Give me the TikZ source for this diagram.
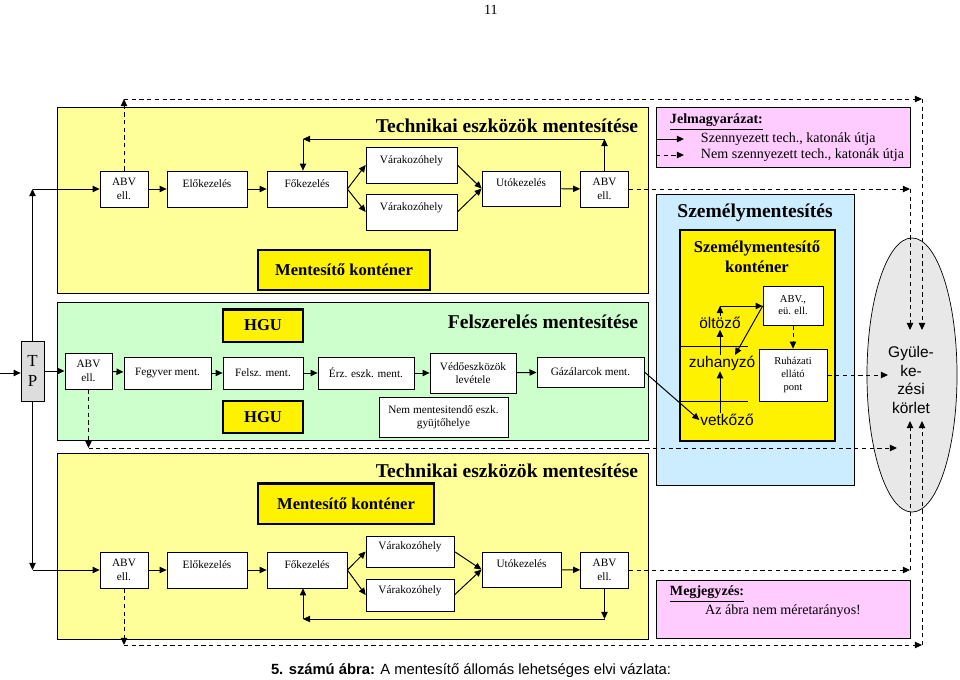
\documentclass[tikz,border=0pt]{standalone}
\usepackage{fontspec}
\setmainfont{Liberation Serif}
\setsansfont{Liberation Sans}
\usetikzlibrary{arrows.meta,shapes.geometric}
\definecolor{paleyellow}{HTML}{FFFF99}
\definecolor{palegreen}{HTML}{CCFFCC}
\definecolor{paleblue}{HTML}{CCECFF}
\definecolor{palepink}{HTML}{FFCCFF}
\definecolor{tpgray}{HTML}{DDDDDD}
\definecolor{gyulgray}{HTML}{E8E8E8}
\begin{document}
\begin{tikzpicture}[x=0.025cm, y=-0.025cm,
  box/.style={draw=black, fill=white, line width=0.5pt, align=center, inner sep=1pt, font=\fontsize{8}{9.5}\selectfont},
  raised/.style={text height=2mm, text depth=3mm},
  kont/.style={draw=black, fill=yellow, line width=2pt, font=\fontsize{11.8}{13}\selectfont\bfseries},
  title/.style={font=\fontsize{13.9}{16}\selectfont\bfseries},
  room/.style={inner sep=0.5pt, font=\sffamily\fontsize{11}{13}\selectfont},
  arr/.style={line width=0.7pt, -{Triangle[length=5pt, width=4.5pt]}},
  darr/.style={arr, dash pattern=on 3pt off 2.5pt},
  panel/.style={draw=black, line width=0.5pt}]
\useasboundingbox (0,0) rectangle (960,679);
\node[font=\fontsize{10}{12}\selectfont] (pnum) at (491,10) {11};
\draw[panel, fill=paleyellow] (57,107) rectangle (648,293);
\draw[panel, fill=palegreen] (57,302) rectangle (648,440);
\draw[panel, fill=paleyellow] (57,453) rectangle (648,639);
\draw[panel, fill=palepink] (656,107) rectangle (910,167);
\draw[panel, fill=paleblue] (656,194) rectangle (854,485);
\draw[draw=black, fill=yellow, line width=2pt] (680,230) rectangle (835,441);
\draw[panel, fill=palepink] (656,580) rectangle (910,638);

\node[title] (titleA) at (507,126) {Technikai eszközök mentesítése};
\node[title] (titleF) at (543,322) {Felszerelés mentesítése};
\node[title] (titleC) at (507,471) {Technikai eszközök mentesítése};
\node[title] (titleS) at (755,213) {Személymentesítés};
\node[align=center, font=\fontsize{11.8}{14}\selectfont\bfseries] (titleK) at (757,257) {Személymentesítő\\konténer};

\node[anchor=west, font=\fontsize{10}{11}\selectfont\bfseries] (jel) at (665,122) {\underline{Jelmagyarázat:}};
\coordinate (lsA) at (656,139);
\coordinate (leA) at (684,139);
\coordinate (lsB) at (656,155);
\coordinate (leB) at (684,155);
\draw[arr] (lsA) -- (leA);
\draw[darr] (lsB) -- (leB);
\node[anchor=west, font=\fontsize{10}{11}\selectfont] (jelA) at (696,139) {Szennyezett tech., katonák útja};
\node[anchor=west, font=\fontsize{10}{11}\selectfont] (jelB) at (696,155) {Nem szennyezett tech., katonák útja};
\node[anchor=west, font=\fontsize{10}{11}\selectfont\bfseries] (megj) at (665,594) {\underline{Megjegyzés:}};
\node[font=\fontsize{10}{11}\selectfont] (megjt) at (783,611) {Az ábra nem méretarányos!};

\node[box, minimum width=1.2cm, minimum height=0.9cm] (abvA) at (124,189) {ABV\\ell.};
\node[box, raised, minimum width=2cm, minimum height=0.9cm] (eloA) at (207,189) {Előkezelés};
\node[box, raised, minimum width=2cm, minimum height=0.9cm] (foA) at (307,189) {Főkezelés};
\node[box, raised, minimum width=2.275cm, minimum height=0.9cm] (varA1) at (411.5,165) {Várakozóhely};
\node[box, raised, minimum width=2.275cm, minimum height=0.9cm] (varA2) at (411.5,212) {Várakozóhely};
\node[box, raised, minimum width=1.95cm, minimum height=0.875cm] (utoA) at (521,188.5) {Utókezelés};
\node[box, minimum width=1.2cm, minimum height=0.9cm] (abvB) at (604.5,189) {ABV\\ell.};
\node[kont, minimum width=4.3cm, minimum height=1cm] (konA) at (344,270) {Mentesítő konténer};

\node[box, fill=tpgray, minimum width=0.575cm, minimum height=1.5cm, font=\fontsize{12}{14}\selectfont] (tp) at (32.5,371) {T\\P};
\node[box, minimum width=1.18cm, minimum height=0.9cm] (abvG) at (88.5,371) {ABV\\ell.};
\node[box, minimum width=2.18cm, minimum height=0.8cm] (fegy) at (167.5,373) {Fegyver ment.};
\node[box, minimum width=2cm, minimum height=0.8cm] (felsz) at (263,373) {Felsz. ment.};
\node[box, minimum width=2.4cm, minimum height=0.8cm] (erz) at (366,373) {Érz. eszk. ment.};
\node[box, minimum width=2.15cm, minimum height=1cm] (vedo) at (473,373) {Védőeszközök\\levétele};
\node[box, minimum width=2.68cm, minimum height=0.75cm] (gaz) at (590.5,372) {Gázálarcok ment.};
\node[box, minimum width=3.22cm, minimum height=1cm] (nem) at (443.5,417) {Nem mentesitendő eszk.\\gyüjtőhelye};
\node[kont, minimum width=2cm, minimum height=0.82cm] (hguA) at (263,325.5) {HGU};
\node[kont, minimum width=2cm, minimum height=0.8cm] (hguB) at (263,417) {HGU};

\node[box, minimum width=1.2cm, minimum height=0.9cm] (abvC) at (124,570) {ABV\\ell.};
\node[box, raised, minimum width=2cm, minimum height=0.9cm] (eloC) at (207,570) {Előkezelés};
\node[box, raised, minimum width=2cm, minimum height=0.9cm] (foC) at (307,570) {Főkezelés};
\node[box, raised, minimum width=2.2cm, minimum height=0.78cm] (varC1) at (410,551.5) {Várakozóhely};
\node[box, raised, minimum width=2.2cm, minimum height=0.8cm] (varC2) at (410,595) {Várakozóhely};
\node[box, raised, minimum width=1.98cm, minimum height=0.875cm] (utoC) at (521.5,569.5) {Utókezelés};
\node[box, minimum width=1.2cm, minimum height=0.9cm] (abvD) at (604.5,570) {ABV\\ell.};
\node[kont, minimum width=4.4cm, minimum height=1.02cm] (konC) at (346,503.5) {Mentesítő konténer};

\node[box, minimum width=1.5cm, minimum height=0.975cm, font=\fontsize{7.5}{8.5}\selectfont] (abveu) at (793,305.5) {ABV.,\\eü. ell.};
\node[box, minimum width=1.7cm, minimum height=1.3cm, font=\fontsize{7.5}{9.5}\selectfont] (ruha) at (793,375) {Ruházati\\ellátó\\pont};
\node[room] (oltozo) at (720,323) {öltöző};
\node[room] (zuhany) at (722,363) {zuhanyzó};
\node[room] (vetkozo) at (727,420) {vetkőző};
\draw[line width=0.6pt] (680,346) -- (748,346);
\draw[line width=0.6pt] (680,401) -- (748,401);

\node[ellipse, draw=black, fill=gyulgray, line width=0.5pt, minimum width=2.25cm, minimum height=6.85cm] (gyul) at (912,375) {};
\node[align=center, font=\sffamily\fontsize{11}{13.2}\selectfont] (gyultext) at (911,380) {Gyüle-\\ke-\\zési\\körlet};

\coordinate (inL) at (0,373);
\coordinate (tpU) at (32.5,189);
\coordinate (tpD) at (32.5,570);
\draw[arr] (inL) -- (inL -| tp.west);
\draw[arr] (tp) -- (abvG);
\draw[arr] (tp) -- (tpU);
\draw[arr] (tpU) -- (abvA);
\draw[arr] (tp) -- (tpD);
\draw[arr] (tpD) -- (abvC);

\draw[arr] (abvA) -- (eloA);
\draw[arr] (eloA) -- (foA);
\draw[arr] (foA.east) -- (varA1.west);
\draw[arr] (foA.east) -- (varA2.west);
\draw[arr] (varA1.east) -- (utoA.west);
\draw[arr] (varA2.east) -- (utoA.west);
\draw[arr] (utoA) -- (abvB);
\coordinate (lpR) at (604.5,139);
\coordinate (lpL) at (303,139);
\draw[arr] (abvB) -- (lpR);
\draw[arr] (lpR) -- (lpL);
\draw[arr] (lpL) -- (lpL |- foA.north);

\draw[arr] (abvG) -- (fegy);
\draw[arr] (fegy) -- (felsz);
\draw[arr] (felsz) -- (erz);
\draw[arr] (erz) -- (vedo);
\draw[arr] (vedo) -- (gaz);
\draw[arr] (gaz.east) -- (vetkozo.west);

\draw[arr] (abvC) -- (eloC);
\draw[arr] (eloC) -- (foC);
\draw[arr] (foC.east) -- (varC1.west);
\draw[arr] (foC.east) -- (varC2.west);
\draw[arr] (varC1.east) -- (utoC.west);
\draw[arr] (varC2.east) -- (utoC.west);
\draw[arr] (utoC) -- (abvD);
\coordinate (lqR) at (604.5,619);
\coordinate (lqL) at (303,619);
\draw[arr] (abvD) -- (lqR);
\draw[arr] (lqR) -- (lqL);
\draw[arr] (lqL) -- (lqL |- foC.south);

\coordinate (olt) at (720,306);
\coordinate (zuh) at (735,355);
\draw[arr] (vetkozo.north -| oltozo) -- (zuhany.south -| oltozo);
\draw[arr] (zuhany.north -| oltozo) -- (oltozo.south);
\draw[arr] (oltozo) -- (olt);
\draw[arr] (olt) -- (olt -| abveu.west);
\draw[arr] (olt -| abveu.west) -- (zuh);
\draw[darr] (abveu) -- (ruha);
\coordinate (gyR) at (888,375);
\draw[darr] (ruha) -- (gyR);

\coordinate (tl) at (124,99);
\coordinate (tr) at (922,99);
\coordinate (gyT2) at (922,330);
\coordinate (mr) at (910,189);
\coordinate (gyT1) at (910,330);
\draw[darr] (abvA) -- (tl);
\draw[darr] (tl) -- (tr);
\draw[darr] (tr) -- (gyT2);
\draw[darr] (abvB) -- (mr);
\draw[darr] (mr) -- (gyT1);

\coordinate (gl) at (88.5,448);
\coordinate (gr) at (897,448);
\draw[darr] (abvG) -- (gl);
\draw[darr] (gl) -- (gr);

\coordinate (mbr) at (910,570);
\coordinate (gyB1) at (910,421);
\coordinate (bl) at (124,645);
\coordinate (br) at (922,645);
\coordinate (gyB2) at (922,421);
\draw[darr] (abvD) -- (mbr);
\draw[darr] (mbr) -- (gyB1);
\draw[darr] (abvC) -- (bl);
\draw[darr] (bl) -- (br);
\draw[darr] (br) -- (gyB2);

\node[font=\sffamily\fontsize{10.5}{12}\selectfont] (capt) at (471,671) {\textbf{5. számú ábra:} A mentesítő állomás lehetséges elvi vázlata:};
\end{tikzpicture}
\end{document}
